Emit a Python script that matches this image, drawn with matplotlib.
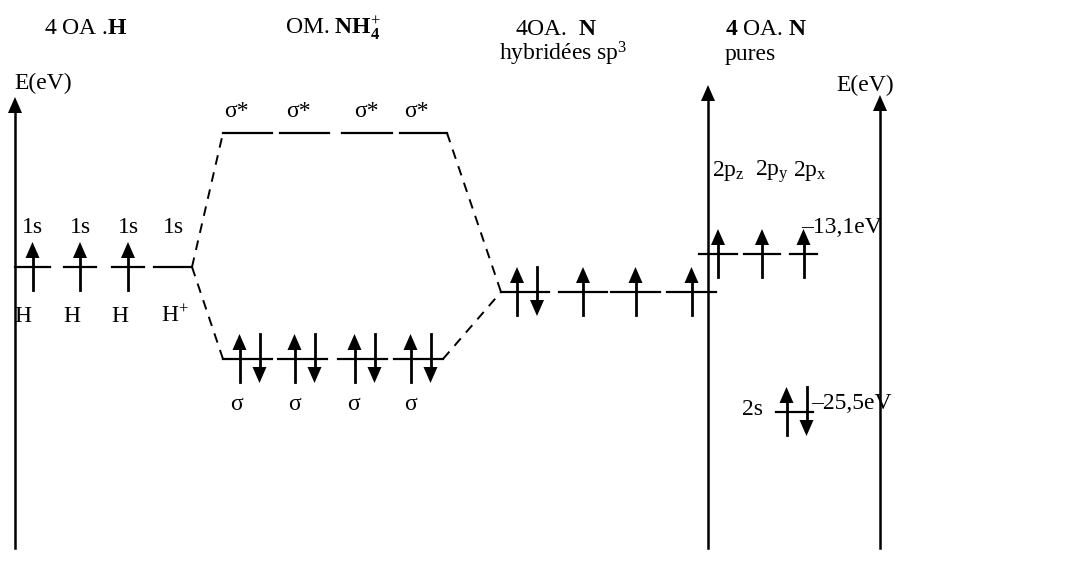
import matplotlib.pyplot as plt

plt.rcParams['font.family'] = ['Liberation Serif', 'DejaVu Serif']
plt.rcParams['mathtext.fontset'] = 'custom'
plt.rcParams['mathtext.rm'] = 'Liberation Serif'
plt.rcParams['mathtext.it'] = 'Liberation Serif:italic'
plt.rcParams['mathtext.bf'] = 'Liberation Serif:bold'

# energy levels (diagram units, y grows downward), with electron counts
h_levels = [(15, 50), (64, 96), (112, 144), (154, 192)]
h_y = 267
h_electrons = [1, 1, 1, 0]
h_orbitals = ['1s', '1s', '1s', '1s']
h_atoms = ['H', 'H', 'H', 'H$^{+}$']

sigma_star_levels = [(223, 272), (280, 329), (342, 392), (400, 447)]
sigma_star_y = 133
sigma_levels = [(223, 272), (278, 327), (338, 387), (394, 443)]
sigma_y = 359
sigma_electrons = [2, 2, 2, 2]

sp3_levels = [(501, 549), (559, 607), (611, 660), (667, 716)]
sp3_y = 292
sp3_electrons = [2, 1, 1, 1]

p_levels = [(699, 737), (744, 780), (790, 817)]
p_y = 254
p_electrons = [1, 1, 1]
p_labels = [r'2p$_{\mathrm{z}}$', r'2p$_{\mathrm{y}}$', r'2p$_{\mathrm{x}}$']

s_levels = [(776, 813)]
s_y = 412
s_electrons = [2]

FS = 17


def electron(ax, x, y, up=True):
    if up:
        ax.plot([x, x], [y + 23, y - 9], color='k', lw=2)
        ax.fill([x - 7, x + 7, x], [y - 9, y - 9, y - 25], color='k', lw=0)
    else:
        ax.plot([x, x], [y - 25, y + 8], color='k', lw=2)
        ax.fill([x - 7, x + 7, x], [y + 8, y + 8, y + 24], color='k', lw=0)


def draw_levels(ax, levels, y, electrons=None):
    for i, (x0, x1) in enumerate(levels):
        ax.plot([x0, x1], [y, y], color='k', lw=1.6)
        if electrons is None:
            continue
        c = (x0 + x1) / 2
        if electrons[i] == 1:
            electron(ax, c, y, up=True)
        elif electrons[i] == 2:
            electron(ax, c - 8, y, up=True)
            electron(ax, c + 12, y, up=False)


def axis_arrow(ax, x, y0, y1):
    ax.plot([x, x], [y0, y1 + 14], color='k', lw=1.8)
    ax.fill([x - 7, x + 7, x], [y1 + 16, y1 + 16, y1], color='k', lw=0)


def label(ax, x, y, s, ha='center'):
    ax.text(x, y, s, fontsize=FS, ha=ha, va='baseline')


fig = plt.figure(figsize=(10.87, 5.74), dpi=100)
ax = fig.add_axes([0, 0, 1, 1])
ax.set_xlim(0, 1087)
ax.set_ylim(574, 0)
ax.axis('off')

# energy axes
axis_arrow(ax, 15, 548, 97)
axis_arrow(ax, 708, 548, 85)
axis_arrow(ax, 880, 548, 95)
label(ax, 14, 89, 'E(eV)', ha='left')
label(ax, 865, 91, 'E(eV)')

# titles
label(ax, 86, 34, r'4 OA .$\mathbf{H}$')
label(ax, 333, 34, r'OM. $\mathbf{NH}_{\mathbf{4}}^{+}$')
label(ax, 556, 35, r'4OA.  $\mathbf{N}$')
label(ax, 563, 60, r'hybridées sp$^{3}$')
label(ax, 766, 35, r'$\mathbf{4}$ OA. $\mathbf{N}$')
label(ax, 750, 60, 'pures')

# H atomic orbitals
draw_levels(ax, h_levels, h_y, h_electrons)
for (x0, x1), lab, at in zip(h_levels, h_orbitals, h_atoms):
    c = (x0 + x1) / 2
    label(ax, c, 233, lab)
    label(ax, x0 + 8 if at == 'H' else c + 2, 322, at)

# molecular orbitals
draw_levels(ax, sigma_star_levels, sigma_star_y)
for (x0, x1), dx in zip(sigma_star_levels, [-11, -6, -1, -7]):
    label(ax, (x0 + x1) / 2 + dx, 117, 'σ*')
draw_levels(ax, sigma_levels, sigma_y, sigma_electrons)
for (x0, x1), dx in zip(sigma_levels, [-11, -8, -9, -8]):
    label(ax, (x0 + x1) / 2 + dx, 410, 'σ')

# sp3 hybrids
draw_levels(ax, sp3_levels, sp3_y, sp3_electrons)

# correlation lines
dash = dict(color='k', lw=1.4, ls=(0, (5, 4)))
ax.plot([h_levels[-1][1], sigma_star_levels[0][0]], [h_y, sigma_star_y], **dash)
ax.plot([h_levels[-1][1], sigma_levels[0][0]], [h_y, sigma_y], **dash)
ax.plot([sigma_star_levels[-1][1], sp3_levels[0][0]], [sigma_star_y, sp3_y], **dash)
ax.plot([sigma_levels[-1][1], sp3_levels[0][0]], [sigma_y, sp3_y], **dash)

# pure N orbitals
draw_levels(ax, p_levels, p_y, p_electrons)
for x, lab in zip([712, 755, 793], p_labels):
    label(ax, x, 176, lab, ha='left')
label(ax, 801, 233, '–13,1eV', ha='left')

draw_levels(ax, s_levels, s_y, s_electrons)
label(ax, 742, 415, '2s', ha='left')
label(ax, 811, 409, '–25,5eV', ha='left')

plt.savefig('out.png', dpi=100)
plt.close()
